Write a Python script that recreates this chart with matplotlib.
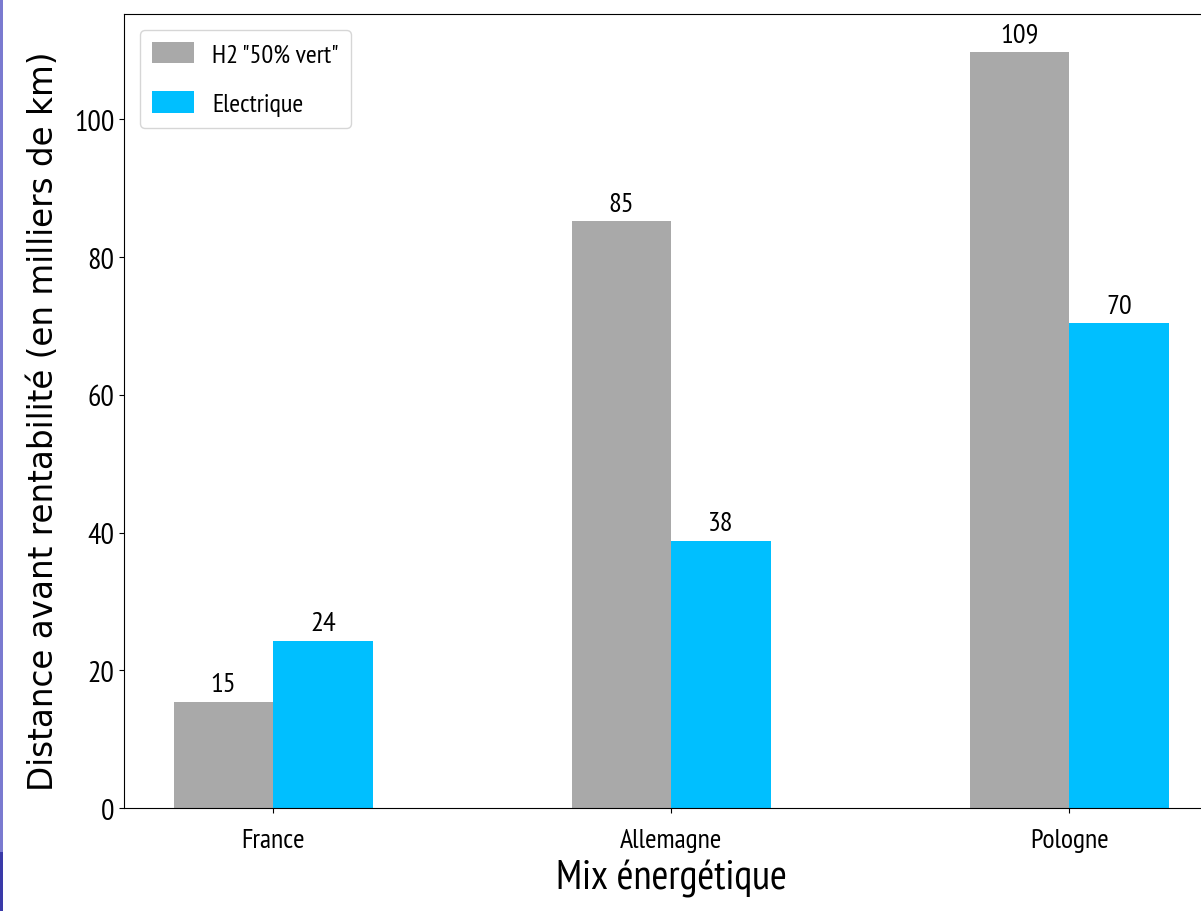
import numpy as np
import matplotlib
matplotlib.use("Agg")
import matplotlib.pyplot as plt
from matplotlib.patches import Rectangle

# Data
countries = ["France", "Allemagne", "Pologne"]
h2_values = [15.4, 85.2, 109.8]
elec_values = [24.3, 38.8, 70.4]
series_names = ['H2 "50% vert"', "Electrique"]

GRAY = "#a9a9a9"
BLUE = "#00bfff"
NARROW = ["PT Sans Narrow", "DejaVu Sans"]

fig = plt.figure(figsize=(12.01, 9.12), dpi=100)
ax = fig.add_axes([0.1032, 0.1129, 0.9113, 0.8706])

x = np.arange(len(countries))
width = 0.25
bars_h2 = ax.bar(x - width / 2, h2_values, width, color=GRAY, label=series_names[0])
bars_el = ax.bar(x + width / 2, elec_values, width, color=BLUE, label=series_names[1])

# Value labels above each bar
for bars in (bars_h2, bars_el):
    for b in bars:
        h = b.get_height()
        ax.annotate(str(int(h)), (b.get_x() + b.get_width() / 2, h),
                    xytext=(0, 4), textcoords="offset points",
                    ha="center", va="bottom", fontsize=20.5, family=NARROW)

ax.set_xticks(x)
ax.set_xticklabels(countries, fontsize=20, family=NARROW)
ax.tick_params(axis="x", pad=11)
ax.tick_params(axis="y", labelsize=21.5)
for lbl in ax.get_yticklabels():
    lbl.set_family(NARROW)

ax.set_xlabel("Mix énergétique", fontsize=29.5, family=NARROW, labelpad=5)
ax.set_ylabel("Distance avant rentabilité (en milliers de km)", fontsize=23.5,
              family="DejaVu Sans")
ax.yaxis.set_label_coords(-0.058, 0.489)

ax.legend(loc="upper left", handlelength=1.6, handleheight=0.85,
          handletextpad=0.7, prop={"family": NARROW, "size": 19},
          borderpad=0.45, labelspacing=0.95, borderaxespad=0.6)

# Thin frame on the left edge of the screenshot
fig.add_artist(Rectangle((0, 0.065), 0.0025, 0.935, transform=fig.transFigure,
                         color="#7a7ad0", lw=0))
fig.add_artist(Rectangle((0, 0), 0.0025, 0.065, transform=fig.transFigure,
                         color="#3a3aa8", lw=0))

fig.savefig("out.png", dpi=100)
